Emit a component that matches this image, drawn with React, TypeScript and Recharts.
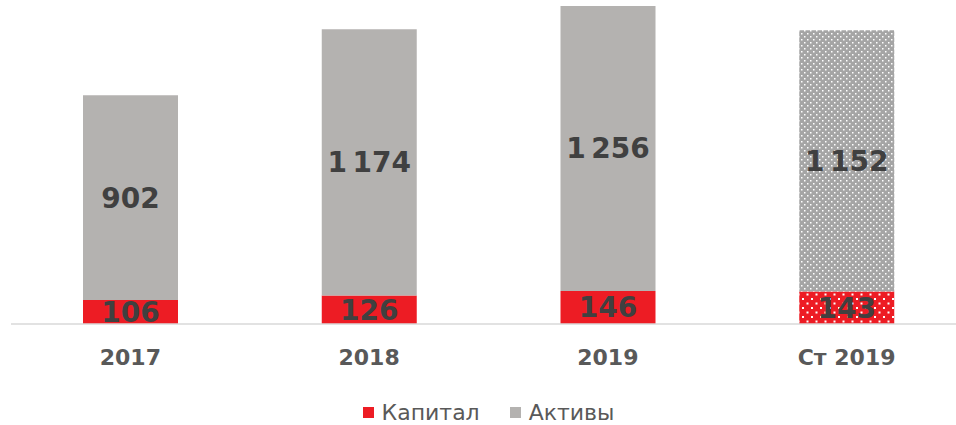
import { BarChart, Bar, XAxis, YAxis, LabelList, Legend, Cell } from 'recharts'

const categories = ['2017', '2018', '2019', 'Ст 2019']
const kapital = [106, 126, 146, 143]
const aktivy = [902, 1174, 1256, 1152]

const RED = '#ED1C24'
const GRAY = '#B4B2B0'

const data = categories.map((c, i) => ({ name: c, kapital: kapital[i], aktivy: aktivy[i] }))

function fmt(v: number) {
  if (v >= 1000) return `${Math.floor(v / 1000)}\u2009${String(v % 1000).padStart(3, '0')}`
  return String(v)
}

function LegendBox() {
  const items = [
    { label: 'Капитал', color: RED },
    { label: 'Активы', color: GRAY },
  ]
  return (
    <div style={{ display: 'flex', justifyContent: 'center', alignItems: 'center', height: 26, gap: 30 }}>
      {items.map((it) => (
        <div key={it.label} style={{ display: 'flex', alignItems: 'center', gap: 8 }}>
          <span style={{ width: 11, height: 11, backgroundColor: it.color, display: 'inline-block' }} />
          <span style={{ fontFamily: 'DejaVu Sans', fontSize: 22, color: '#595959' }}>{it.label}</span>
        </div>
      ))}
    </div>
  )
}

const labelStyle = { fontFamily: 'DejaVu Sans', fontWeight: 700, fontSize: 28, fill: '#404040' }

export default function App() {
  return (
    <div style={{ position: 'absolute', left: 0, top: 0, width: 956, height: 425, overflow: 'hidden' }}>
      <BarChart width={966} height={425} data={data} margin={{ top: 6, right: 0, left: 11, bottom: 0 }}>
        <defs>
          <pattern id="dotsGray" width="6" height="6" patternUnits="userSpaceOnUse">
            <rect width="6" height="6" fill="#A5A5A5" />
            <rect x="0" y="0" width="1.5" height="1.5" fill="#fff" />
            <rect x="3" y="3" width="1.5" height="1.5" fill="#fff" />
          </pattern>
          <pattern id="dotsRed" width="9" height="9" patternUnits="userSpaceOnUse">
            <rect width="9" height="9" fill={RED} />
            <rect x="1" y="1" width="2" height="2" fill="#fff" />
            <rect x="5.5" y="5.5" width="2" height="2" fill="#fff" />
          </pattern>
        </defs>
        <XAxis
          dataKey="name"
          height={75}
          tickLine={false}
          axisLine={{ stroke: '#D9D9D9', strokeWidth: 1.5 }}
          tickMargin={19}
          tick={{ fontFamily: 'DejaVu Sans', fontWeight: 700, fontSize: 22, fill: '#595959' }}
        />
        <YAxis hide domain={[0, 1402]} />
        <Legend verticalAlign="bottom" content={<LegendBox />} wrapperStyle={{ bottom: 0 }} />
        <Bar dataKey="kapital" stackId="a" fill={RED} barSize={95} isAnimationActive={false}>
          {data.map((d, i) => (
            <Cell key={d.name} fill={i === 3 ? 'url(#dotsRed)' : RED} />
          ))}
          <LabelList dataKey="kapital" position="center" formatter={(v: any) => fmt(Number(v))} style={labelStyle} />
        </Bar>
        <Bar dataKey="aktivy" stackId="a" fill={GRAY} barSize={95} isAnimationActive={false}>
          {data.map((d, i) => (
            <Cell key={d.name} fill={i === 3 ? 'url(#dotsGray)' : GRAY} />
          ))}
          <LabelList dataKey="aktivy" position="center" formatter={(v: any) => fmt(Number(v))} style={labelStyle} />
        </Bar>
      </BarChart>
    </div>
  )
}
